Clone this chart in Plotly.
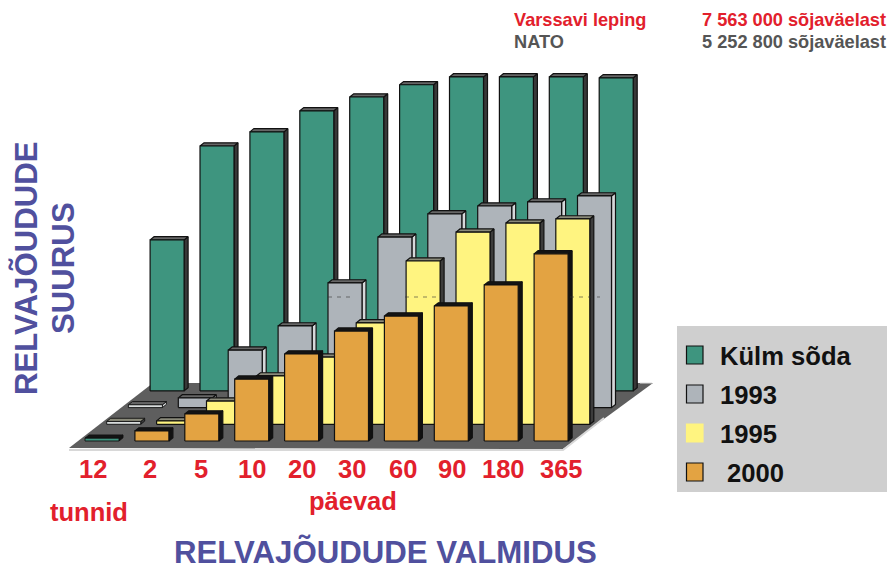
import plotly.graph_objects as go

# --- data -------------------------------------------------------------
categories = ["12", "2", "5", "10", "20", "30", "60", "90", "180", "365"]
kulm_soda = [48.1, 78.0, 82.5, 89.2, 93.6, 97.5, 100.0, 100.0, 100.0, 99.7]
y1993 = [0.9, 3.1, 18.3, 26.0, 39.7, 54.3, 61.7, 64.2, 65.5, 67.4]
y1995 = [0.9, 1.1, 7.4, 15.4, 21.4, 32.3, 52.0, 61.2, 64.1, 65.4]
y2000 = [0.9, 3.2, 8.6, 19.7, 27.7, 35.0, 39.8, 43.0, 49.7, 59.6]
series_names = ["Külm sõda", "1993", "1995", "2000"]

# --- oblique projection ----------------------------------------------
X0, Y0 = 85.0, 441.0
STEP_X = 49.9
ROW_DX, ROW_DY = 21.7, 16.7
BAR_W = 34.0
DEPTH_X, DEPTH_Y = 4.0, 3.2
PX_PER_UNIT = 3.14

FONT = "Liberation Sans"
RED = "#E2202C"
BLUE = "#50509E"

# row index counted from the front; front/top/side colours
rows = [
    (3, kulm_soda, "#3E957F", "#666666", "#383838"),
    (2, y1993, "#AEB4BA", "#666666", "#D6D8DA"),
    (1, y1995, "#FFF480", "#8A8A7A", "#3C3C3C"),
    (0, y2000, "#E3A342", "#141414", "#111111"),
]
# the hour column is drawn as flat slabs in a different tint
slab_fill = {1: "#D8DCDC", 2: "#D8DCDC", 0: "#3E957F"}

fig = go.Figure()


def poly(xs, ys, fill, lw=1.2, line="#111111"):
    fig.add_trace(go.Scatter(
        x=xs + xs[:1], y=ys + ys[:1], mode="lines", fill="toself",
        fillcolor=fill, line=dict(color=line, width=lw),
        hoverinfo="skip", showlegend=False))


# floor
poly([69, 563, 653, 153], [448, 449, 383, 383], "#5E5E5E", lw=0, line="#5E5E5E")
fig.add_trace(go.Scatter(x=[69, 563, 604], y=[450, 450, 418], mode="lines",
                         line=dict(color="#D8D8D8", width=2),
                         hoverinfo="skip", showlegend=False))
fig.add_trace(go.Scatter(x=[640, 652], y=[383, 383], mode="lines",
                         line=dict(color="#DDDDDD", width=1),
                         hoverinfo="skip", showlegend=False))

for row, values, front, top, side in rows:
    base = Y0 - ROW_DY * row
    for i, v in enumerate(values):
        x = X0 + STEP_X * i + ROW_DX * row
        yt = base - v * PX_PER_UNIT
        is_slab = i == 0 and row in slab_fill
        f = slab_fill[row] if is_slab else front
        lw = 0.9 if is_slab else 1.2
        poly([x + BAR_W, x + BAR_W + DEPTH_X, x + BAR_W + DEPTH_X, x + BAR_W],
             [base, base - DEPTH_Y, yt - DEPTH_Y, yt], side, lw)
        poly([x, x + DEPTH_X, x + BAR_W + DEPTH_X, x + BAR_W],
             [yt, yt - DEPTH_Y, yt - DEPTH_Y, yt], top, lw)
        poly([x, x + BAR_W, x + BAR_W, x], [base, base, yt, yt], f, lw)

# stray hairline visible across the bars
fig.add_trace(go.Scatter(x=[328, 352, None, 405, 440, None, 570, 600],
                         y=[297, 297, None, 297, 297, None, 297, 297], mode="lines",
                         line=dict(color="#333333", width=0.6, dash="4px,5px"),
                         hoverinfo="skip", showlegend=False))

ann = []


def text(x, y, s, size, color, anchor="left", angle=0):
    ann.append(dict(x=x, y=y, xref="x", yref="y", text=s, showarrow=False,
                    xanchor=anchor, yanchor="middle", textangle=angle,
                    font=dict(family=FONT, size=size, color=color), borderpad=0))


text(513, 20, "<b>Varssavi leping</b>", 18.2, RED)
text(887, 20, "<b>7 563 000 sõjaväelast</b>", 18.2, RED, "right")
text(513, 42, "<b>NATO</b>", 18.2, "#555555")
text(887, 42, "<b>5 252 800 sõjaväelast</b>", 18.2, "#555555", "right")

tick_x = [93, 150, 201, 252, 302, 352, 403, 452, 503, 561]
for cx, c in zip(tick_x, categories):
    text(cx, 469, f"<b>{c}</b>", 25.5, RED, "center")
text(353, 501, "<b>päevad</b>", 25.5, RED, "center")
text(89, 512, "<b>tunnid</b>", 25.5, RED, "center")
text(385.5, 552, "<b>RELVAJÕUDUDE VALMIDUS</b>", 31.2, BLUE, "center")
text(26, 268, "<b>RELVAJÕUDUDE</b>", 31.2, BLUE, "center", -90)
text(63, 268, "<b>SUURUS</b>", 31.2, BLUE, "center", -90)

# legend panel
shapes = [dict(type="rect", x0=677, x1=887, y0=326, y1=492, xref="x", yref="y",
               fillcolor="#CFCFCF", line=dict(width=0), layer="below")]
legend_y = [355, 394, 433, 472]
legend_fill = ["#3E957F", "#AEB4BA", "#FFF480", "#E3A342"]
legend_line = ["#111111", "#111111", "#FFF480", "#111111"]
legend_x = [719, 719, 719, 726]
for yy, fc, lc, lx, name in zip(legend_y, legend_fill, legend_line, legend_x, series_names):
    shapes.append(dict(type="rect", x0=686.5, x1=703, y0=yy - 9, y1=yy + 9, xref="x", yref="y",
                       fillcolor=fc, line=dict(color=lc, width=1.2), layer="below"))
    text(lx, yy + 0.5, f"<b>{name}</b>", 25.6, "#111111")

fig.update_layout(
    width=890, height=563, margin=dict(l=0, r=0, t=0, b=0),
    paper_bgcolor="white", plot_bgcolor="white", showlegend=False,
    xaxis=dict(range=[0, 890], visible=False, fixedrange=True),
    yaxis=dict(range=[563, 0], visible=False, fixedrange=True),
    annotations=ann, shapes=shapes,
)
fig.write_html("out.html", config={"displayModeBar": False},
               post_script="document.body.style.margin='0';document.body.style.overflow='hidden';")
